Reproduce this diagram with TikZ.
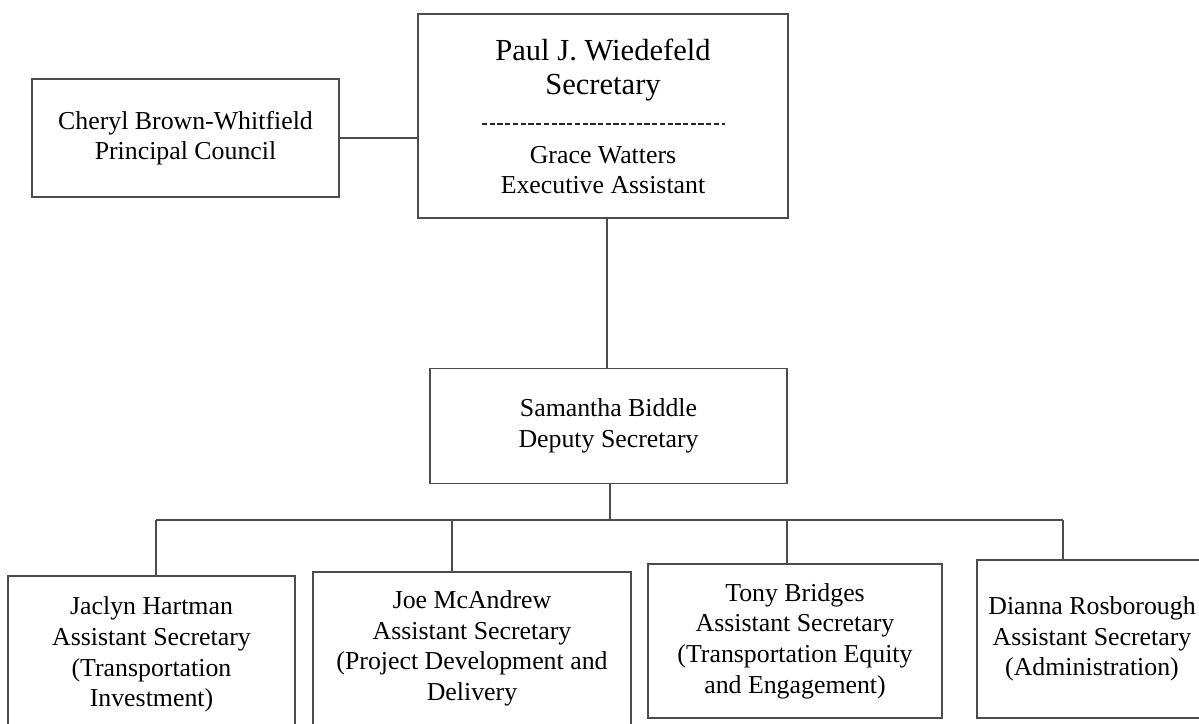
\documentclass[tikz,border=0pt]{standalone}
\usepackage{fontspec}
\setmainfont{Liberation Serif}
\tikzstyle{office} = [rectangle, draw=black!70, line width=1pt, text centered, align=center, inner sep=0pt, font=\fontsize{14.7}{17.4}\selectfont]
\tikzstyle{head} = [align=center, inner sep=0pt, font=\fontsize{17.4}{19.8}\selectfont]
\tikzstyle{aide} = [align=center, inner sep=0pt, font=\fontsize{14.7}{17.2}\selectfont]
\tikzstyle{link} = [draw=black!70, line width=1pt]
\tikzstyle{sepline} = [draw=black!85, line width=0.8pt, dash pattern=on 3pt off 1.4pt]

\begin{document}
\begin{tikzpicture}[x=0.02cm, y=-0.02cm]
\useasboundingbox (0,0) rectangle (1199,723);
% top level
\node (paul) [office, minimum width=7.4cm, minimum height=4.08cm] at (603,116) {};
\node (sec) [head] at (603,70) {Paul J. Wiedefeld\\Secretary};
\node (exa) [aide] at (603,170) {Grace Watters\\Executive Assistant};
\coordinate (dl) at (482,124);
\coordinate (dr) at (725,124);
\draw [sepline] (dl) -- (dr);
\node (cheryl) [office, minimum width=6.14cm, minimum height=2.36cm] at (185.5,138) {Cheryl Brown-Whitfield\\Principal Council};
\node (sam) [office, minimum width=7.14cm, minimum height=2.3cm] at (608.5,426) {Samantha Biddle\\Deputy Secretary};
% assistant secretaries
\node (jac) [office, minimum width=5.74cm, minimum height=3.14cm] at (151.5,654.5) {Jaclyn Hartman\\Assistant Secretary\\(Transportation\\Investment)};
\node (joe) [office, minimum width=6.36cm, minimum height=3.06cm] at (472,648.5) {Joe McAndrew\\Assistant Secretary\\(Project Development and\\Delivery};
\node (tony) [office, minimum width=5.88cm, minimum height=3.08cm] at (795,641) {Tony Bridges\\Assistant Secretary\\(Transportation Equity\\and Engagement)};
\node (dianna) [office, minimum width=4.6cm, minimum height=3.16cm] at (1092,639) {Dianna Rosborough\\Assistant Secretary\\(Administration)};
% lines
\draw [link] (cheryl.east) -- (cheryl.east -| paul.west);
\draw [link] (sam.north -| 607,0) -- (paul.south -| 607,0);
\coordinate (d1) at (156,520);
\coordinate (d2) at (452,520);
\coordinate (d3) at (787,520);
\coordinate (d4) at (1063,520);
\draw [link] (d1) -- (d4);
\draw [link] (sam.south -| 610,0) -- (d1 -| 610,0);
\draw [link] (d1) -- (d1 |- jac.north);
\draw [link] (d2) -- (d2 |- joe.north);
\draw [link] (d3) -- (d3 |- tony.north);
\draw [link] (d4) -- (d4 |- dianna.north);
\end{tikzpicture}
\end{document}
